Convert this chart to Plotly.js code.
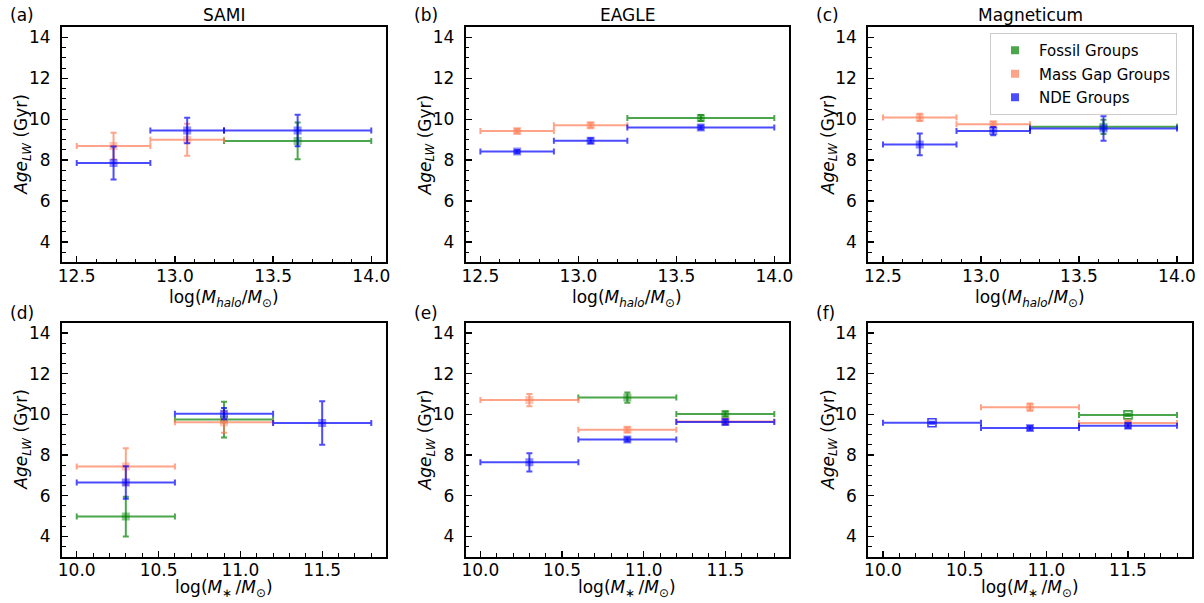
<!DOCTYPE html>
<html><head><meta charset="utf-8">
<script src="https://cdn.plot.ly/plotly-3.0.1.min.js"></script>
<style>html,body{margin:0;padding:0;background:#fff}#chart{width:1204px;height:603px}</style>
</head><body><div id="chart"></div>
<script>
// ---- bins (x error bars span each bin; markers sit at bin centres) ----
const haloEdges    = [12.5, 12.875, 13.25, 14.0];
const stellarEdges = [10.0, 10.6, 11.2, 11.8];

const groupNames  = ['Fossil Groups', 'Mass Gap Groups', 'NDE Groups'];
const panelTitles = ['SAMI', 'EAGLE', 'Magneticum'];
const panelLabels = ['(a)', '(b)', '(c)', '(d)', '(e)', '(f)'];

// ---- (a) SAMI vs halo mass ----
const samiHaloFossil   = [null, null, 8.94];  const samiHaloFossilErr   = [0, 0, 0.90];
const samiHaloGap      = [8.69, 9.00, null];  const samiHaloGapErr      = [0.65, 0.78, 0];
const samiHaloNDE      = [7.86, 9.45, 9.45];  const samiHaloNDEErr      = [0.81, 0.62, 0.77];
// ---- (b) EAGLE vs halo mass ----
const eagleHaloFossil  = [null, null, 10.06]; const eagleHaloFossilErr  = [0, 0, 0.15];
const eagleHaloGap     = [9.42, 9.71, null];  const eagleHaloGapErr     = [0.10, 0.12, 0];
const eagleHaloNDE     = [8.42, 8.95, 9.60];  const eagleHaloNDEErr     = [0.08, 0.12, 0.10];
// ---- (c) Magneticum vs halo mass ----
const magHaloFossil    = [null, null, 9.63];  const magHaloFossilErr    = [0, 0, 0.35];
const magHaloGap       = [10.09, 9.76, null]; const magHaloGapErr       = [0.18, 0.12, 0];
const magHaloNDE       = [8.77, 9.42, 9.55];  const magHaloNDEErr       = [0.53, 0.20, 0.60];
// ---- (d) SAMI vs stellar mass ----
const samiStarFossil   = [4.97, 9.74, null];  const samiStarFossilErr   = [0.98, 0.88, 0];
const samiStarGap      = [7.43, 9.61, null];  const samiStarGapErr      = [0.90, 0.52, 0];
const samiStarNDE      = [6.65, 10.03, 9.57]; const samiStarNDEErr      = [0.80, 0.28, 1.07];
// ---- (e) EAGLE vs stellar mass ----
const eagleStarFossil  = [null, 10.82, 10.01]; const eagleStarFossilErr = [0, 0.25, 0.12];
const eagleStarGap     = [10.70, 9.24, 9.65];  const eagleStarGapErr    = [0.30, 0.12, 0.10];
const eagleStarNDE     = [7.64, 8.76, 9.62];   const eagleStarNDEErr    = [0.45, 0.10, 0.12];
// ---- (f) Magneticum vs stellar mass (open = small sample) ----
const magStarFossil    = [null, null, 9.97];  const magStarFossilErr    = [0, 0, 0.05];
const magStarGap       = [null, 10.35, 9.57]; const magStarGapErr       = [0, 0.18, 0.10];
const magStarNDE       = [9.58, 9.32, 9.44];  const magStarNDEErr       = [0.05, 0.10, 0.12];
const magStarFossilOpen = [false, false, true];
const magStarNDEOpen    = [true, false, false];

const groupRGB = ['0,128,0', '255,125,85', '0,0,255'];
const rgba = (c, a) => `rgba(${c},${a})`;

function series(edges, ages, errs, gi, ax, openFlags) {
  const xc = edges.slice(0, -1).map((e, i) => (e + edges[i + 1]) / 2);
  const lo = xc.map((c, i) => c - edges[i]);
  const hi = xc.map((c, i) => edges[i + 1] - c);
  const c = groupRGB[gi];
  const open = openFlags || xc.map(() => false);
  return {
    type: 'scatter', mode: 'markers', x: xc, y: ages,
    xaxis: 'x' + ax, yaxis: 'y' + ax, showlegend: false, hoverinfo: 'skip',
    marker: {
      symbol: open.map(o => o ? 'square-open' : 'square'), size: 8,
      color: open.map(o => o ? rgba(c, 0.75) : rgba(c, 0.45)),
      line: {width: open.map(o => o ? 1.6 : 0), color: rgba(c, 0.75)}
    },
    error_x: {type: 'data', symmetric: false, array: hi, arrayminus: lo,
              color: rgba(c, 0.7), thickness: 2, width: 3},
    error_y: {type: 'data', array: errs, color: rgba(c, 0.7), thickness: 2, width: 3}
  };
}

const panels = [
  [haloEdges, [[samiHaloFossil, samiHaloFossilErr], [samiHaloGap, samiHaloGapErr], [samiHaloNDE, samiHaloNDEErr]]],
  [haloEdges, [[eagleHaloFossil, eagleHaloFossilErr], [eagleHaloGap, eagleHaloGapErr], [eagleHaloNDE, eagleHaloNDEErr]]],
  [haloEdges, [[magHaloFossil, magHaloFossilErr], [magHaloGap, magHaloGapErr], [magHaloNDE, magHaloNDEErr]]],
  [stellarEdges, [[samiStarFossil, samiStarFossilErr], [samiStarGap, samiStarGapErr], [samiStarNDE, samiStarNDEErr]]],
  [stellarEdges, [[eagleStarFossil, eagleStarFossilErr], [eagleStarGap, eagleStarGapErr], [eagleStarNDE, eagleStarNDEErr]]],
  [stellarEdges, [[magStarFossil, magStarFossilErr, magStarFossilOpen], [magStarGap, magStarGapErr], [magStarNDE, magStarNDEErr, magStarNDEOpen]]]
];

const traces = [];
panels.forEach((p, pi) => {
  p[1].forEach((s, gi) => traces.push(series(p[0], s[0], s[1], gi, pi + 1, s[2])));
});
// legend entries
groupNames.forEach((n, gi) => traces.push({
  type: 'scatter', mode: 'markers', x: [null], y: [null], name: n, legendgroup: 'g' + gi,
  xaxis: 'x3', yaxis: 'y3', showlegend: true,
  marker: {symbol: 'square', size: 8, color: rgba(groupRGB[gi], 0.7)}
}));

const FONT = 'DejaVu Sans, sans-serif';
const W = 1204, H = 603;
const colPx = [[62, 386], [465.7, 789], [868.3, 1191.7]];
const rowPx = [[27.3, 262.3], [322.7, 556.7]];
const xd = colPx.map(c => [c[0] / W, c[1] / W]);
const yd = rowPx.map(r => [1 - r[1] / H, 1 - r[0] / H]);

const layout = {
  width: W, height: H, margin: {l: 0, r: 0, t: 0, b: 0},
  paper_bgcolor: '#fff', plot_bgcolor: '#fff',
  font: {family: FONT, size: 17, color: '#000'},
  showlegend: true,
  legend: {x: 990 / W, y: 1 - 33 / H, xanchor: 'left', yanchor: 'top',
           bgcolor: 'rgba(255,255,255,0.85)', bordercolor: '#cccccc', borderwidth: 1,
           font: {family: FONT, size: 15}, tracegroupgap: 1, itemwidth: 38},
  annotations: [], shapes: []
};

for (let i = 0; i < 6; i++) {
  const col = i % 3, row = Math.floor(i / 3);
  const ax = i + 1;
  const xr = row === 0 ? [12.425, 14.075] : [9.91, 11.89];
  layout['xaxis' + (ax === 1 ? '' : ax)] = {
    domain: xd[col], anchor: 'y' + ax, range: xr, dtick: 0.5, tick0: 0, tickformat: '.1f',
    ticks: 'inside', ticklen: 6, tickwidth: 1.3, tickcolor: '#000',
    minor: {ticks: 'inside', dtick: 0.1, ticklen: 3.5, tickwidth: 1, tickcolor: '#000'},
    showline: true, linecolor: '#000', linewidth: 2, mirror: true,
    showgrid: false, zeroline: false, ticklabelstandoff: -3,
    tickfont: {family: FONT, size: 17}
  };
  layout['yaxis' + (ax === 1 ? '' : ax)] = {
    domain: yd[row], anchor: 'x' + ax, range: [3, 14.5], dtick: 2, tick0: 0,
    ticks: 'inside', ticklen: 6, tickwidth: 1.3, tickcolor: '#000',
    minor: {ticks: 'inside', dtick: 0.5, ticklen: 3.5, tickwidth: 1, tickcolor: '#000'},
    showline: true, linecolor: '#000', linewidth: 2, mirror: true,
    showgrid: false, zeroline: false, ticklabelstandoff: 6,
    tickfont: {family: FONT, size: 17}
  };
  const cx = (colPx[col][0] + colPx[col][1]) / 2 / W;
  const cy = 1 - (rowPx[row][0] + rowPx[row][1]) / 2 / H;
  // x-axis title
  layout.annotations.push({
    xref: 'paper', yref: 'paper', x: cx, y: 1 - (row === 0 ? 298 : 588) / H,
    xanchor: 'center', yanchor: 'middle', showarrow: false,
    text: row === 0 ? 'log(<i>M</i><sub><i>halo</i></sub>/<i>M</i><sub>⊙</sub>)'
                    : 'log(<i>M</i><sub>∗</sub>\u2009/<i>M</i><sub>⊙</sub>)',
    font: {family: FONT, size: 17}
  });
  // y-axis title
  layout.annotations.push({
    xref: 'paper', yref: 'paper', x: (colPx[col][0] - 39) / W, y: cy,
    xanchor: 'center', yanchor: 'middle', showarrow: false, textangle: -90,
    text: '<i>Age</i><sub><i>LW</i></sub> (Gyr)', font: {family: FONT, size: 17}
  });
  // panel label
  layout.annotations.push({
    xref: 'paper', yref: 'paper', x: (colPx[col][0] - 54) / W, y: 1 - (row === 0 ? 15 : 313) / H,
    xanchor: 'left', yanchor: 'middle', showarrow: false, text: panelLabels[i],
    font: {family: FONT, size: 17}
  });
  if (row === 0) {
    layout.annotations.push({
      xref: 'paper', yref: 'paper', x: cx, y: 1 - 15 / H,
      xanchor: 'center', yanchor: 'middle', showarrow: false, text: panelTitles[col],
      font: {family: FONT, size: 17}
    });
  }
}

Plotly.newPlot('chart', traces, layout, {staticPlot: true, displayModeBar: false});
</script></body></html>
